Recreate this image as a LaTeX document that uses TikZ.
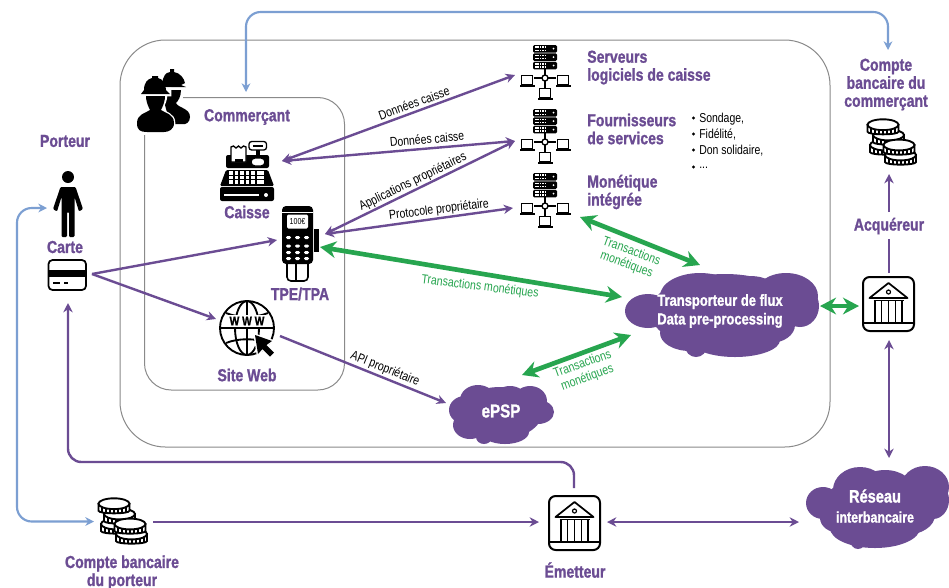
\documentclass[tikz,border=0pt]{standalone}
\usepackage{fontspec}
\setmainfont[FakeStretch=0.81,BoldFeatures={FakeBold=1.2}]{Liberation Sans}
\usetikzlibrary{arrows.meta}
\definecolor{violet}{HTML}{6B4C93}
\definecolor{bleu}{HTML}{7C9FD2}
\definecolor{vert}{HTML}{27A54F}
\definecolor{gris}{HTML}{8A8A8A}
\tikzset{
  x=0.75pt,y=-0.75pt,
  cadre/.style={draw=gris,line width=0.75pt},
  titre/.style={text=violet,font=\fontsize{13}{13.5}\selectfont\bfseries,align=center,inner sep=0pt},
  titreg/.style={titre,align=left,anchor=west},
  petit/.style={text=black,font=\fontsize{9.7}{10.5}\selectfont,inner sep=0pt,align=center},
  trans/.style={text=vert,font=\fontsize{9.8}{10.5}\selectfont,inner sep=0pt,align=center},
  nuage/.style={text=white,font=\fontsize{12}{14}\selectfont\bfseries,inner sep=0pt,align=center},
  lienv/.style={draw=violet,line width=1.8pt,-{Stealth[length=7pt,width=7pt]}},
  lienvv/.style={draw=violet,line width=1.8pt,{Stealth[length=7pt,width=7pt]}-{Stealth[length=7pt,width=7pt]}},
  lienb/.style={draw=bleu,line width=1.6pt,rounded corners=11pt,{Stealth[length=6.5pt,width=6.5pt]}-{Stealth[length=6.5pt,width=6.5pt]}},
  lieng/.style={draw=vert,line width=3.5pt,{Stealth[length=12pt,width=12.5pt]}-{Stealth[length=12pt,width=12.5pt]}},
  pics/laptop/.style={code={
    \draw[line width=1pt,fill=white] (-5.5,-9.5) rectangle (5.5,0);
    \fill[black] (-7.5,0) rectangle (7.5,2.2);
  }},
  pics/serveurs/.style={code={
    \foreach \yy in {-33,-24.6,-16.2}{
      \fill[black,rounded corners=1pt] (-12,\yy) rectangle (12,\yy+7.6);
      \draw[white,line width=1.1pt,dash pattern=on 1.2pt off 0.6pt] (-10,\yy+2) -- (0,\yy+2);
      \draw[white,line width=1.1pt,dash pattern=on 1.2pt off 0.6pt] (-10,\yy+5.3) -- (0,\yy+5.3);
      \fill[white] (8.5,\yy+3.7) circle[radius=1];
    }
    \draw[line width=1pt] (0,-9) -- (0,19) (-11,0) -- (11,0);
    \draw[line width=1pt,fill=white] (0,0) circle[radius=3];
    \pic at (-18,7) {laptop};
    \pic at (18,7) {laptop};
    \pic at (0,20) {laptop};
  }},
  pics/pieces/.style={code={
    \foreach \cx/\cy in {18.5/26,21.5/16,16/5.7,33.5/36,32/26}{
      \begin{scope}[shift={(\cx,\cy)}]
        \draw[line width=1.4pt,fill=white] (-15.5,0) -- (-15.5,7) .. controls (-15.5,10.5) and (15.5,10.5) .. (15.5,7) -- (15.5,0) -- cycle;
        \foreach \tx in {-12,-8,-4,0,4,8,12}{\draw[line width=1.5pt] (\tx,2) -- (\tx,8.8);}
        \draw[line width=1.4pt,fill=white] (0,0) ellipse[x radius=15.5,y radius=5.4];
      \end{scope}
    }
  }},
  pics/banque/.style={code={
    \draw[line width=1.5pt,rounded corners=5pt,fill=white] (-25.5,-27) rectangle (25.5,27);
    \draw[line width=1pt] (-25.5,19) -- (25.5,19);
    \draw[line width=1.3pt,line join=round] (0,-21) -- (19,-6) -- (-19,-6) -- cycle;
    \draw[line width=0.9pt] (0,-12) circle[radius=2];
    \draw[line width=1pt] (-15,-3.5) -- (15,-3.5);
    \foreach \cx in {-13.5,-7,0,7,13.5}{\draw[line width=1pt] (\cx,-3.5) -- (\cx,19);}
  }},
}
\newcommand{\bosses}[1]{\foreach \ax/\ay/\arx/\ary in {#1}{\fill[violet] (\ax,\ay) ellipse[x radius=\arx,y radius=\ary];}}
\begin{document}
\begin{tikzpicture}
\useasboundingbox (0,0) rectangle (949,587);
\fill[white] (0,0) rectangle (949,587);
% cadres
\draw[cadre,rounded corners=34pt] (120,40) rectangle (830,447);
\draw[cadre,rounded corners=20pt] (144.5,97.5) rectangle (344.5,390);
\fill[white] (130,85) rectangle (183,135);
% nuages
\bosses{725/312/75/38,648/311/23/17,700/296/40/23,750/294/30/18,786/296/32/23,800/306/19/21,690/333/30/18,735/340/45/17,696/346/11/11,770/325/25/18}
\bosses{500/413/42/26,465/410/16/14,470/425/17/14,478/400/18/15,510/398/16/12,530/401/17/15,538/412/16/12,505/432/24/12,484/437/8/7}
\bosses{878/508/55/35,823/503/17/16,860/490/27/23,885/492/30/22,925/487/24/21,933/500/16/19,875/528/45/20,858/540/8/9,905/515/30/20,840/518/20/15}
\node[nuage] (transp) at (720,311) {Transporteur de flux\\Data pre-processing};
\node[nuage] (epsp) at (501,411) {\fontsize{14}{16}\selectfont ePSP};
\node[nuage] (reseau) at (875,506) {\fontsize{13.5}{15}\selectfont Réseau\\[1pt]\fontsize{11.5}{13}\selectfont interbancaire};
% icone commercants
\begin{scope}
  \fill[black] (162,87) -- (163,79) .. controls (165,73) and (168,72) .. (170,72) -- (170,69) -- (174,69) -- (174,72) .. controls (180,73) and (184,78) .. (185,83) -- (181,85) -- (186,87) -- cycle;
  \fill[black] (163,90) -- (181,90) .. controls (181,97) and (178,101) .. (176,103) .. controls (178,108) and (190,108) .. (190,117) .. controls (190,122) and (186,125) .. (182,124) -- (170,124) -- (165,105) -- cycle;
  \draw[white,line width=2pt,fill=white] (137,123) .. controls (137,114) and (146,113) .. (150,110) .. controls (147,104) and (145,100) .. (145,95) -- (141,95) -- (141,89) -- (170,89) -- (170,95) -- (166,95) .. controls (166,100) and (164,104) .. (161,110) .. controls (165,113) and (174,114) .. (174,123) .. controls (174,130) and (168,132) .. (164,132) -- (147,132) .. controls (140,132) and (137,130) .. (137,123) -- cycle;
  \fill[black] (137,123) .. controls (137,114) and (146,113) .. (150,110) .. controls (147,104) and (146,100) .. (146,96) -- (165,96) .. controls (165,100) and (164,104) .. (161,110) .. controls (165,113) and (174,114) .. (174,123) .. controls (174,130) and (168,132) .. (164,132) -- (147,132) .. controls (140,132) and (137,130) .. (137,123) -- cycle;
  \fill[black] (141,94) -- (144,90) .. controls (144,82) and (148,79) .. (152,78) -- (152,76) -- (158,76) -- (158,78) .. controls (163,79) and (166,84) .. (166,90) -- (170,94) -- cycle;
\end{scope}
% caisse
\begin{scope}
  \fill[black,rounded corners=1.5pt] (220,187) rectangle (274,201);
  \draw[white,line width=1.2pt] (224,195) -- (259,195);
  \fill[white] (266,195) circle[radius=2];
  \fill[black,rounded corners=1pt] (226,170) -- (268,170) -- (274,186) -- (220,186) -- cycle;
  \foreach \kx in {231,236.5,242,247.5,253,258.5,262}{\foreach \ky in {173,177.5,182}{\fill[white] (\kx-1.6,\ky-1.6) rectangle (\kx+1.6,\ky+1.6);}}
  \fill[black,rounded corners=1.5pt] (226,155) rectangle (269,168);
  \draw[line width=1pt,fill=white] (231,162) -- (231,147) -- (233.5,146) -- (236,148) -- (238.5,146) -- (241,148) -- (243.5,146) -- (246,147) -- (246,162) -- cycle;
  \fill[black] (235,159) rectangle (243,162);
  \draw[line width=1pt,fill=white,rounded corners=2pt] (249,141.5) rectangle (266.5,150);
  \draw[line width=1pt] (253,146) -- (263,146);
  \fill[black] (256,150) rectangle (260,158);
  \draw[line width=1pt,fill=white,rounded corners=3pt] (251,158) rectangle (265,166);
\end{scope}
% TPE
\begin{scope}
  \fill[black] (314,229) rectangle (318.5,252);
  \draw[line width=1.2pt,fill=white,rounded corners=3pt] (287,258) -- (287,281) -- (308,281) -- (308,258) -- cycle;
  \draw[line width=1pt] (296,264) -- (296,281);
  \fill[black,rounded corners=3pt] (282,206) rectangle (313,264);
  \draw[white,line width=0.5pt] (282,212.5) -- (313,212.5);
  \fill[white,rounded corners=1pt] (287,214.5) rectangle (308,228.5);
  \node[inner sep=0pt,font=\fontsize{6.5}{7}\selectfont] (cent) at (297.5,221.5) {100€};
  \foreach \ky in {237.5,246,252.5,258.5}{\foreach \kx in {288.5,297.5,306.5}{\fill[white,rounded corners=1pt] (\kx-2.5,\ky-1.5) rectangle (\kx+2.5,\ky+1.5);}}
\end{scope}
% globe
\begin{scope}
  \draw[line width=1.4pt] (247,328) circle[radius=27];
  \draw[line width=1.4pt] (247,328) ellipse[x radius=12,y radius=27];
  \draw[line width=1.4pt] (247,301) -- (247,355);
  \draw[line width=1.4pt] (226,313) .. controls (238,318) and (256,318) .. (268,313);
  \draw[line width=1.4pt] (226,343) .. controls (238,338) and (256,338) .. (268,343);
  \fill[white] (225,315) rectangle (269,327);
  \draw[line width=1.4pt] (220,328) -- (274,328);
  \node[inner sep=0pt,font=\fontsize{9.5}{10}\selectfont\bfseries] (www) at (247,321) {W W W};
  \draw[white,line width=2.2pt,fill=black,line join=round] (255,335) -- (258,354) -- (262.5,349) -- (270,356.5) -- (274,352.5) -- (266.5,345) -- (272,341) -- cycle;
  \fill[black] (255,335) -- (258,354) -- (262.5,349) -- (270,356.5) -- (274,352.5) -- (266.5,345) -- (272,341) -- cycle;
\end{scope}
% porteur
\fill[black] (68,177) circle[radius=6];
\fill[black,rounded corners=0.8pt] (60.5,187) -- (75.5,187) -- (83,209) -- (79,211.5) -- (74.5,197) -- (74.5,237) -- (69,237) -- (69,212) -- (67,212) -- (67,237) -- (61.5,237) -- (61.5,197) -- (57,211.5) -- (53,209) -- cycle;
% carte
\draw[line width=1.3pt,rounded corners=3pt,fill=white] (48.5,260) rectangle (86,290);
\fill[black] (48.5,270) rectangle (86,277);
\draw[line width=1.2pt] (53,283) -- (60,283) (64,283) -- (68,283);
% serveurs, pieces, banques
\pic (srvA) at (545,78) {serveurs};
\pic (srvB) at (545,142) {serveurs};
\pic (srvC) at (545,206) {serveurs};
\pic (coinsC) at (867,119) {pieces};
\pic (coinsP) at (98,498) {pieces};
\pic (bankA) at (888.5,304) {banque};
\pic (bankE) at (574.5,523) {banque};
% points d'ancrage
\coordinate (caisseP) at (282,161);
\coordinate (tpeE) at (325,234);
\coordinate (tpeO) at (277,240);
\coordinate (tpeV) at (320,247);
\coordinate (webO) at (216,319);
\coordinate (webE) at (280,336);
\coordinate (srvAo) at (515,75);
\coordinate (srvBo) at (515,141);
\coordinate (srvCo) at (513,208);
\coordinate (srvCv) at (580,217);
\coordinate (carteE) at (92,274);
\coordinate (carteS) at (68,303);
\coordinate (epspO) at (446,403);
\coordinate (epspV) at (522,375);
\coordinate (trO) at (622,297);
\coordinate (trH) at (700,265);
\coordinate (trB) at (631,335);
\coordinate (trD) at (820,306);
\coordinate (bankAo) at (859,306);
\coordinate (bankAh) at (889,273);
\coordinate (bankAb) at (889,340);
\coordinate (acqB) at (889,239);
\coordinate (acqH) at (889,212);
\coordinate (coinsCb) at (889,174);
\coordinate (reseauH) at (889,458);
\coordinate (reseauO) at (799,522);
\coordinate (bankEd) at (607,522);
\coordinate (bankEo) at (539,522);
\coordinate (bankEh) at (574,488);
\coordinate (coinsPd) at (153,522);
\coordinate (coinsPo) at (94,521.5);
\coordinate (portO) at (47,208);
\coordinate (commH) at (246,92);
\coordinate (cbC) at (888,50);
% connecteurs bleus
\coordinate (b1) at (246,12); \coordinate (b2) at (888,12);
\draw[lienb] (commH) -- (b1) -- (b2) -- (cbC);
\coordinate (b3) at (17,208); \coordinate (b4) at (17,521.5);
\draw[lienb] (portO) -- (b3) -- (b4) -- (coinsPo);
% connecteurs violets
\draw[lienvv] (caisseP) -- (srvAo);
\draw[lienvv] (caisseP) -- (srvBo);
\draw[lienvv] (tpeE) -- (srvBo);
\draw[lienvv] (tpeE) -- (srvCo);
\draw[lienv] (carteE) -- (tpeO);
\draw[lienv] (carteE) -- (webO);
\draw[lienv] (webE) -- (epspO);
\draw[lienv] (acqH) -- (coinsCb);
\draw[draw=violet,line width=1.8pt] (bankAh) -- (acqB);
\draw[lienvv] (bankAb) -- (reseauH);
\draw[lienvv] (bankEd) -- (reseauO);
\draw[lienv] (coinsPd) -- (bankEo);
\coordinate (v1) at (574,462); \coordinate (v2) at (68,462);
\draw[lienv,rounded corners=10pt] (bankEh) -- (v1) -- (v2) -- (carteS);
% connecteurs verts
\draw[lieng] (tpeV) -- (trO);
\draw[lieng] (srvCv) -- (trH);
\draw[lieng] (epspV) -- (trB);
\draw[lieng] (trD) -- (bankAo);
% libelles de liens
\node[petit,rotate=20] (l1) at (414,103) {Données caisse};
\node[petit,rotate=5] (l2) at (427,139) {Données caisse};
\node[petit,rotate=26] (l3) at (413,182) {Applications propriétaires};
\node[petit,rotate=7] (l4) at (439,210) {Protocole propriétaire};
\node[petit,rotate=-22] (l5) at (385,369) {API propriétaire};
\node[trans,rotate=-7] (t1) at (480,287) {Transactions monétiques};
\node[trans,rotate=-20] (t2) at (629,258) {Transactions\\monétiques};
\node[trans,rotate=20] (t3) at (585,371) {Transactions\\monétiques};
% titres
\node[titre] (porteur) at (65,141) {Porteur};
\node[titre] (carte) at (65,247) {Carte};
\node[titre] (commercant) at (247,117) {Commerçant};
\node[titre] (caisse) at (247,212) {Caisse};
\node[titre] (tpe) at (300,294) {TPE/TPA};
\node[titre] (web) at (247,375) {Site Web};
\node[titreg] (t-srv) at (587,67.5) {Serveurs\\logiciels de caisse};
\node[titreg] (t-four) at (587,129) {Fournisseurs\\de services};
\node[titreg] (t-mon) at (587,192) {Monétique\\intégrée};
\node[titre] (cbc) at (886,84.5) {Compte\\bancaire du\\commerçant};
\node[titre] (acq) at (889,226) {Acquéreur};
\node[titre] (cbp) at (122,572.5) {Compte bancaire\\du porteur};
\node[titre] (emet) at (575,570) {Émetteur};
% liste
\foreach \ly in {119,135,151,168}{\fill[black] (693.5,\ly-1) circle[radius=1.6];}
\node[petit,anchor=west] (li1) at (699,119) {Sondage,};
\node[petit,anchor=west] (li2) at (699,135) {Fidélité,};
\node[petit,anchor=west] (li3) at (699,151) {Don solidaire,};
\node[petit,anchor=west] (li4) at (699,168) {...};
\end{tikzpicture}
\end{document}
